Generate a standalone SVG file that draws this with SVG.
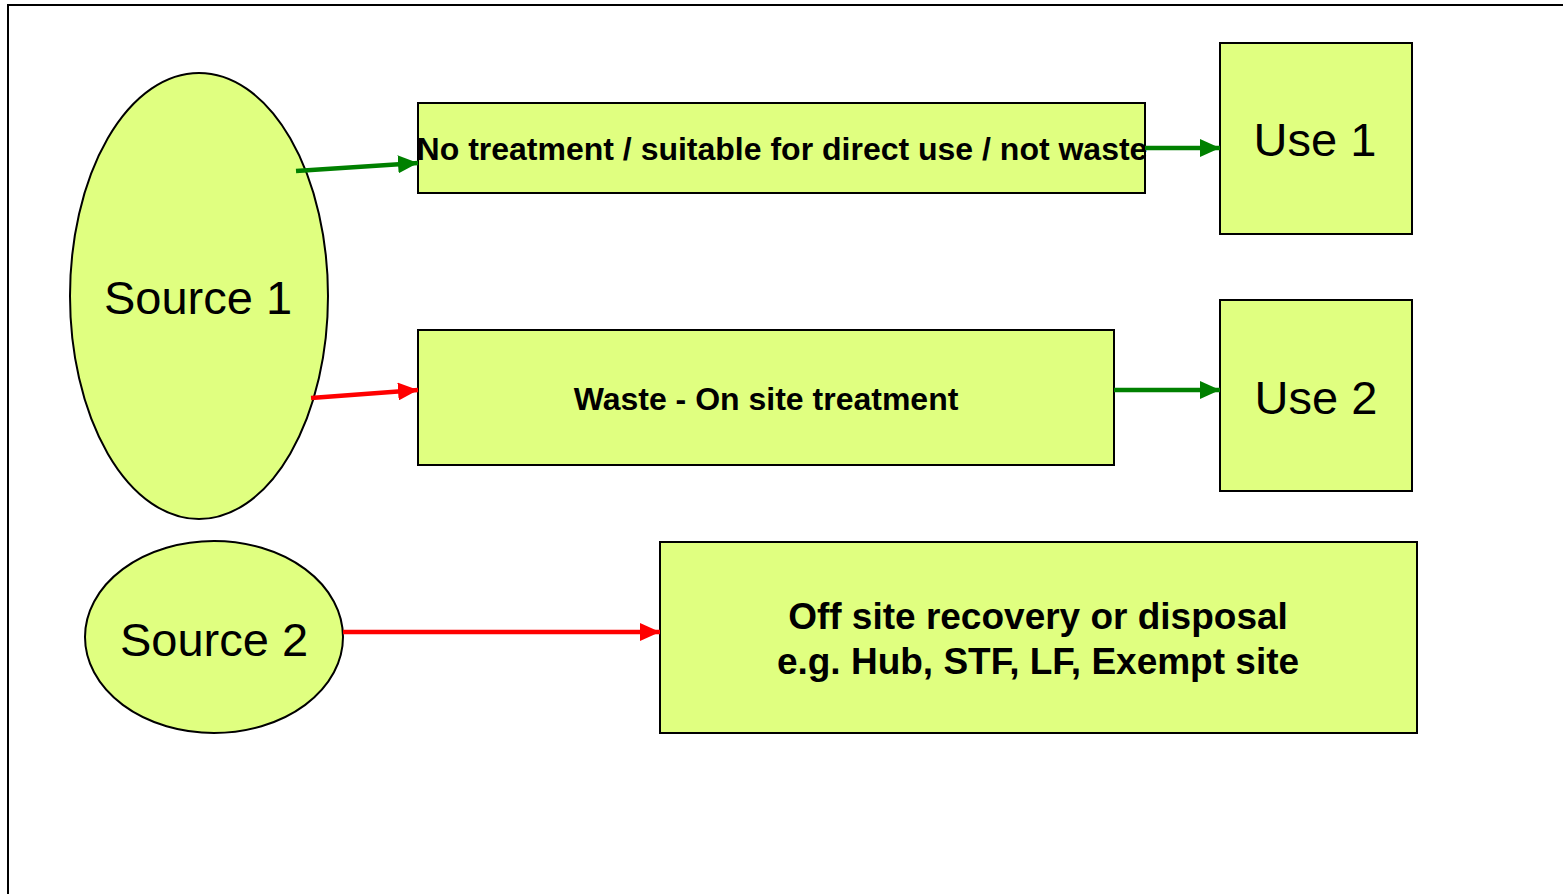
<svg xmlns="http://www.w3.org/2000/svg" width="1563" height="894" viewBox="0 0 1563 894">
<style>
.node{fill:#e0ff80;stroke:#000;stroke-width:2}
.t{font-family:"Liberation Sans",Arial,sans-serif;fill:#000;text-anchor:middle}
.b{font-weight:bold;font-size:32px}
.b3{font-weight:bold;font-size:37px}
.r{font-size:47px}
.g{stroke:#008000;stroke-width:4.5;fill:none}
.rd{stroke:#ff0000;stroke-width:4.5;fill:none}
</style>
<defs>
<marker id="ag" markerUnits="userSpaceOnUse" markerWidth="20" markerHeight="18" refX="20" refY="9" orient="auto"><path d="M0,0 L20,9 L0,18 Z" fill="#008000"/></marker>
<marker id="ar" markerUnits="userSpaceOnUse" markerWidth="20" markerHeight="18" refX="20" refY="9" orient="auto"><path d="M0,0 L20,9 L0,18 Z" fill="#ff0000"/></marker>
</defs>
<rect width="1563" height="894" fill="#fff"/>
<path d="M8,894 L8,5 L1563,5" fill="none" stroke="#000" stroke-width="2"/>
<g id="source1"><ellipse class="node" cx="199" cy="296" rx="129" ry="223"/><text class="t r" x="198" y="314">Source 1</text></g>
<g id="source2"><ellipse class="node" cx="214" cy="637" rx="129" ry="96"/><text class="t r" x="214" y="656">Source 2</text></g>
<g id="notreat"><rect class="node" x="418" y="103" width="727" height="90"/><text class="t b" x="782" y="160">No treatment / suitable for direct use / not waste</text></g>
<g id="onsite"><rect class="node" x="418" y="330" width="696" height="135"/><text class="t b" x="766" y="410">Waste - On site treatment</text></g>
<g id="offsite"><rect class="node" x="660" y="542" width="757" height="191"/><text class="t b3" x="1038" y="629">Off site recovery or disposal</text><text class="t b3" x="1038" y="674">e.g. Hub, STF, LF, Exempt site</text></g>
<g id="use1"><rect class="node" x="1220" y="43" width="192" height="191"/><text class="t r" x="1315" y="156">Use 1</text></g>
<g id="use2"><rect class="node" x="1220" y="300" width="192" height="191"/><text class="t r" x="1316" y="414">Use 2</text></g>
<g id="connectors">
<line class="g" x1="296" y1="171" x2="418" y2="163" marker-end="url(#ag)"/>
<line class="rd" x1="311" y1="398" x2="418" y2="390" marker-end="url(#ar)"/>
<line class="g" x1="1145" y1="148" x2="1220" y2="148" marker-end="url(#ag)"/>
<line class="g" x1="1114" y1="390" x2="1220" y2="390" marker-end="url(#ag)"/>
<line class="rd" x1="343" y1="632" x2="660" y2="632" marker-end="url(#ar)"/>
</g>
</svg>
